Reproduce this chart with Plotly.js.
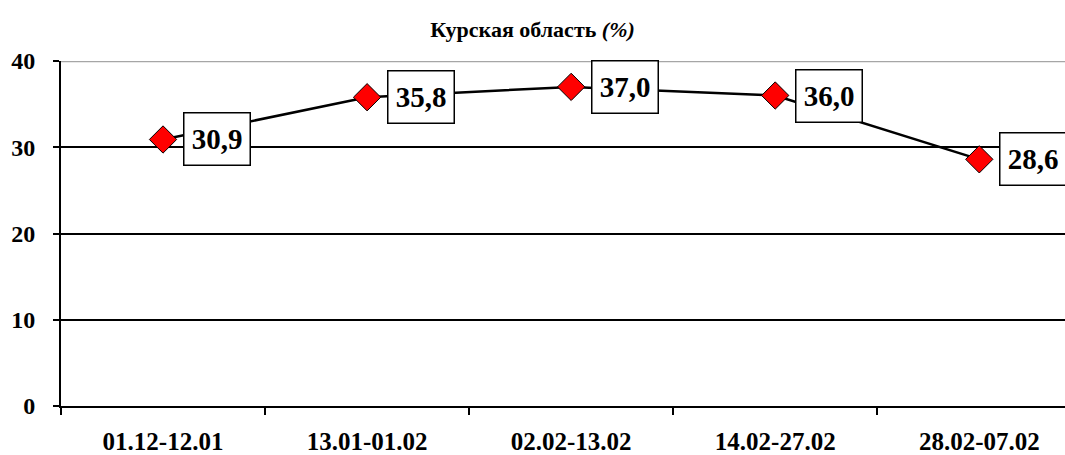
<!DOCTYPE html>
<html>
<head>
<meta charset="utf-8">
<script src="https://cdn.plot.ly/plotly-3.0.1.min.js"></script>
<style>html,body{margin:0;padding:0;background:#fff;}#chart{width:1065px;height:455px;}</style>
</head>
<body>
<div id="chart"></div>
<script>
var categories = ['01.12-12.01', '13.01-01.02', '02.02-13.02', '14.02-27.02', '28.02-07.02'];
var values = [30.9, 35.8, 37.0, 36.0, 28.6];
var valueLabels = ['30,9', '35,8', '37,0', '36,0', '28,6'];
var yTicks = [0, 10, 20, 30, 40];

var serif = 'Liberation Serif, Times New Roman, serif';

var trace = {
  type: 'scatter',
  mode: 'lines+markers',
  x: categories,
  y: values,
  line: {color: '#000', width: 2.5},
  marker: {symbol: 'diamond', size: 21, color: '#ff0000', line: {color: '#000', width: 1}},
  hoverinfo: 'skip'
};

var annotations = categories.map(function (c, i) {
  return {
    x: c, y: values[i], xref: 'x', yref: 'y',
    text: '<b>' + valueLabels[i] + '</b>',
    showarrow: false, xanchor: 'left', yanchor: 'middle', xshift: 20,
    font: {family: serif, size: 29, color: '#000'},
    bgcolor: '#fff', bordercolor: '#000', borderwidth: 1.5, borderpad: 1,
    width: 63, height: 49, align: 'center', valign: 'middle'
  };
});

var layout = {
  width: 1065, height: 455,
  margin: {l: 61, r: 0, t: 61, b: 49},
  paper_bgcolor: '#fff', plot_bgcolor: '#fff',
  showlegend: false,
  title: {
    text: '<b>Курская область <i>(%)</i></b>',
    font: {family: serif, size: 22, color: '#000'},
    xref: 'container', x: 0.5, xanchor: 'center',
    yref: 'container', y: 0.936, yanchor: 'middle'
  },
  xaxis: {
    type: 'category',
    range: [-0.5, 4.42],
    showgrid: false,
    showline: true, linecolor: '#000', linewidth: 2,
    ticks: 'outside', tickson: 'boundaries', ticklen: 7, tickwidth: 2, tickcolor: '#000',
    tickfont: {family: serif, size: 25, color: '#000', weight: 'bold'},
    ticklabelstandoff: 12,
    zeroline: false, fixedrange: true
  },
  yaxis: {
    range: [0, 40],
    tickvals: yTicks,
    ticktext: yTicks.map(function (v) { return '<b>' + v + '</b>'; }),
    showgrid: true, gridcolor: '#000', gridwidth: 2,
    showline: true, linecolor: '#000', linewidth: 2,
    ticks: 'outside', ticklen: 6, tickwidth: 2, tickcolor: '#000',
    tickfont: {family: serif, size: 24, color: '#000'},
    ticklabelstandoff: 13,
    zeroline: false, fixedrange: true
  },
  shapes: [{
    type: 'line', xref: 'paper', yref: 'y', x0: 0, x1: 1, y0: 40, y1: 40,
    line: {color: '#a6a6a6', width: 2.5}, layer: 'above'
  }],
  annotations: annotations
};

Plotly.newPlot('chart', [trace], layout, {staticPlot: true, displayModeBar: false});
</script>
</body>
</html>
